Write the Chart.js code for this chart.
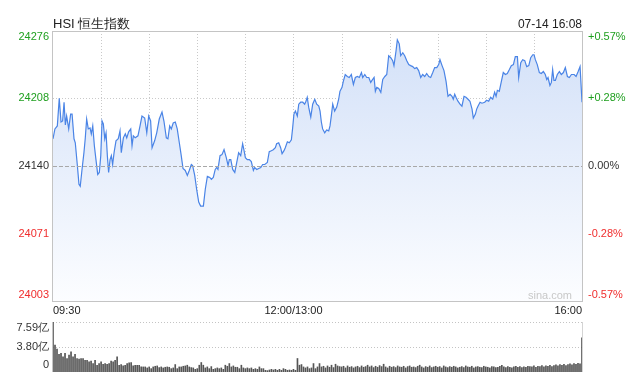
<!DOCTYPE html>
<html>
<head>
<meta charset="utf-8">
<script src="https://cdn.jsdelivr.net/npm/chart.js@4/dist/chart.umd.min.js"></script>
<style>
  body { margin: 0; background: #fff; }
  #wrap { position: relative; width: 641px; height: 377px; }
  #wrap canvas { position: absolute; left: 0; top: 0; }
</style>
</head>
<body>
<div id="wrap">
  <canvas id="priceChart" width="641" height="377"></canvas>
  <canvas id="volChart" width="641" height="377"></canvas>
</div>
<script>
// trading minutes since 09:30 (12:00/13:00 = 150, 16:00 = 330)
const tradeMin = [
  0,1.2,2.7,3.9,5.0,6.0,6.9,7.7,8.5,9.8,11.0,11.9,13.1,13.9,15.2,16.2,17.0,18.1,19.3,20.1,
  21.0,22.0,23.1,23.9,24.8,25.8,26.8,27.9,28.9,29.8,30.6,31.4,32.3,33.1,33.9,34.7,35.6,36.4,37.2,38.1,
  39.3,40.7,41.8,42.6,43.9,45.1,46.0,47.2,48.5,49.3,50.1,51.3,53.0,54.3,55.5,57.2,58.5,59.7,60.9,61.8,
  63.4,64.7,66.3,
  68.0,69.2,70.7,71.7,72.8,73.8,75.0,76.3,77.5,78.8,80.0,81.1,82.5,83.8,85.0,86.3,87.1,88.4,89.6,90.9,
  92.1,93.8,95.0,96.3,97.8,98.8,100.0,101.2,102.1,102.9,104.2,105.4,106.7,108.1,109.2,110.0,110.9,112.1,113.4,114.6,
  115.8,117.1,118.3,119.2,120.0,121.2,122.5,123.7,125.0,125.8,127.1,128.3,129.6,130.8,132.1,133.7,
  134.9,136.2,137.4,138.7,139.5,140.8,142.0,142.9,144.1,144.9,146.2,147.4,148.7,149.5,150.3,151.2,152.4,153.3,154.5,155.8,
  157.0,157.8,158.6,159.5,160.8,162.0,163.3,164.5,165.8,166.6,167.4,168.2,169.5,170.7,172.0,172.8,173.6,174.5,175.7,177.0,
  178.2,179.0,180.3,181.1,182.3,183.6,184.8,186.1,187.4,188.6,189.9,191.1,192.4,193.2,194.5,195.7,197.0,198.2,199.0,200.3,
  201.1,202.0,203.2,204.5,205.7,207.0,208.2,209.4,210.7,211.9,212.7,214.0,214.8,216.0,216.9,218.2,219.4,220.7,221.9,223.1,
  224.4,225.6,226.9,228.1,229.4,230.6,231.9,233.1,234.4,235.6,236.9,238.1,239.4,240.6,241.4,242.7,243.9,245.2,246.4,247.7,
  248.9,249.7,250.6,251.4,252.6,253.9,255.1,256.4,257.6,258.9,260.1,261.4,262.2,263.5,264.3,265.1,266.4,267.6,
  269.3,270.5,271.8,273.0,274.3,275.5,276.4,277.2,278.4,279.7,280.9,282.2,283.4,284.7,285.9,287.2,288.4,289.7,290.5,291.8,
  293.0,294.3,295.5,296.8,298.0,299.3,300.1,300.9,302.1,303.4,304.6,305.9,307.1,308.0,308.8,310.0,310.9,311.7,312.5,313.4,
  314.6,315.9,317.1,318.4,319.6,320.9,322.1,323.4,325.1,326.3,327.6,328.8,330
];
const hsiPrice = [
  24167,24177,24180,24208,24184,24185,24204,24181,24190,24177,24192,24192,24167,24163,24140,24121,24119,24136,24153,24167,
  24187,24177,24178,24172,24180,24160,24146,24131,24133,24150,24185,24182,24167,24173,24150,24133,24146,24150,24141,24153,
  24165,24167,24175,24153,24168,24172,24168,24174,24177,24160,24170,24168,24170,24180,24190,24188,24173,24190,24185,24158,
  24165,24173,24187,
  24194,24185,24168,24167,24180,24177,24183,24184,24177,24163,24150,24137,24135,24130,24135,24141,24140,24130,24116,24103,
  24099,24099,24116,24129,24128,24126,24128,24136,24138,24136,24150,24151,24156,24148,24140,24146,24146,24136,24133,24143,
  24153,24150,24162,24155,24148,24146,24146,24144,24135,24138,24136,24137,24138,24141,24141,24143,
  24154,24155,24156,24158,24162,24163,24158,24152,24155,24158,24164,24163,24166,24178,24192,24195,24190,24202,24204,24204,
  24202,24205,24209,24199,24189,24202,24207,24202,24200,24195,24184,24177,24173,24176,24175,24180,24190,24202,24195,24199,
  24207,24215,24219,24225,24232,24230,24229,24232,24222,24229,24230,24229,24234,24229,24232,24229,24229,24224,24226,24229,
  24215,24219,24218,24214,24227,24230,24232,24251,24249,24246,24241,24256,24267,24263,24251,24254,24251,24246,24242,24241,
  24240,24238,24239,24236,24229,24232,24230,24233,24230,24229,24234,24239,24239,24242,24247,24241,24236,24225,24210,24212,
  24210,24207,24212,24209,24205,24202,24200,24210,24209,24207,24205,24197,24188,24192,24197,24200,24204,24203,
  24204,24206,24205,24209,24207,24214,24210,24216,24215,24225,24234,24232,24233,24237,24241,24242,24250,24250,24229,24244,
  24247,24246,24240,24241,24249,24252,24252,24247,24242,24234,24233,24235,24232,24227,24229,24221,24224,24237,24226,24226,
  24232,24235,24232,24234,24239,24230,24229,24232,24232,24230,24235,24240,24204
];
// turnover per bar, in 亿
const volume = [
  7.59,4.10,3.49,2.67,2.82,2.31,2.82,2.05,2.56,3.08,2.31,2.67,2.05,1.95,2.05,2.05,1.79,1.79,1.54,1.64,
  1.28,1.79,1.03,1.28,1.54,1.18,1.28,1.18,1.28,1.64,1.54,1.79,2.31,1.03,1.13,0.92,1.03,1.28,1.38,1.44,
  0.92,1.03,1.03,1.03,0.77,0.77,0.77,0.62,0.77,0.51,0.77,0.87,0.92,0.67,0.77,0.62,0.72,0.77,0.72,0.51,
  0.62,1.13,0.51,0.77,0.77,0.87,0.92,1.03,0.77,0.67,0.62,0.41,0.51,1.03,1.44,1.03,0.62,0.77,0.51,0.82,
  0.41,0.51,0.62,0.51,0.62,0.41,1.03,0.87,1.28,0.77,0.92,0.72,0.72,0.51,1.03,0.62,0.51,0.62,0.51,0.62,
  0.41,0.51,0.41,0.77,0.51,0.51,0.26,0.21,0.31,0.41,0.31,0.41,0.26,0.41,0.26,0.51,0.41,0.26,0.31,0.26,
  0.41,0.26,2.05,1.03,1.13,0.77,0.62,0.77,0.51,0.62,1.28,0.51,0.77,1.28,
  0.77,0.87,0.62,0.92,0.72,1.03,0.67,1.18,0.92,0.82,0.77,0.87,0.62,0.92,0.72,0.82,0.62,0.77,0.87,0.67,
  0.92,0.72,0.82,1.03,0.77,0.92,0.67,0.87,0.72,0.97,0.82,1.18,0.77,0.62,0.87,0.72,0.82,0.67,0.92,0.77,
  0.72,0.87,0.62,0.82,0.92,0.72,0.77,0.67,0.87,1.03,0.77,0.62,0.82,0.72,0.92,0.67,0.77,0.87,0.72,0.82,
  0.62,0.92,0.77,0.67,0.82,0.72,0.87,0.77,0.62,0.72,0.82,0.67,0.92,0.77,0.72,0.87,0.62,0.77,0.82,0.72,
  0.67,0.87,0.77,0.72,0.62,0.82,0.77,0.67,0.72,0.87,1.03,0.77,0.67,0.82,0.72,0.62,0.77,0.87,0.72,0.82,
  0.67,0.77,0.72,0.87,0.82,0.77,0.92,0.72,0.87,0.82,0.97,0.77,0.92,0.87,1.03,0.82,0.97,1.08,0.92,1.13,
  1.03,1.18,0.97,1.13,1.23,1.08,1.28,1.18,1.33,1.23,5.20
];

const prevClose = 24140;
const priceTicks = [24003, 24071, 24140, 24208, 24276];
const pctTicks = ['-0.57%', '-0.28%', '0.00%', '+0.28%', '+0.57%'];
const timeTicks = [0, 150, 330];
const timeLabels = ['09:30', '12:00/13:00', '16:00'];
const volTicks = [0, 3.80, 7.59];
const volLabels = ['0', '3.80亿', '7.59亿'];

const FONT = '"Liberation Sans", Arial, sans-serif';
const UP = '#1f9f1f', DOWN = '#f02d2d', FLAT = '#333';

function crisp(v) { return Math.round(v) + 0.5; }

function hLine(ctx, area, y, color, dash) {
  ctx.save();
  ctx.strokeStyle = color;
  ctx.lineWidth = 1;
  ctx.setLineDash(dash);
  ctx.beginPath();
  ctx.moveTo(area.left, crisp(y));
  ctx.lineTo(area.right, crisp(y));
  ctx.stroke();
  ctx.restore();
}

function vLine(ctx, x, top, bottom, color, dash) {
  ctx.save();
  ctx.strokeStyle = color;
  ctx.lineWidth = 1;
  ctx.setLineDash(dash);
  ctx.beginPath();
  ctx.moveTo(crisp(x), top);
  ctx.lineTo(crisp(x), bottom);
  ctx.stroke();
  ctx.restore();
}

const priceFrame = {
  id: 'priceFrame',
  beforeDatasetsDraw(chart) {
    const { ctx, chartArea: a, scales: { x, y } } = chart;
    for (let m = 30; m < 330; m += 30) {
      vLine(ctx, x.getPixelForValue(m), a.top, a.bottom, '#c9c9c9', [1, 2]);
    }
    priceTicks.forEach(v => {
      if (v === prevClose) return;
      hLine(ctx, a, y.getPixelForValue(v), '#c9c9c9', [1, 2]);
    });
  },
  afterDatasetsDraw(chart) {
    const { ctx, chartArea: a, scales: { x, y } } = chart;
    hLine(ctx, a, y.getPixelForValue(prevClose), '#a8a8a8', [4, 2]);
    ctx.save();
    ctx.strokeStyle = '#c4c4c4';
    ctx.lineWidth = 1;
    ctx.strokeRect(a.left - 0.5, a.top + 0.5, a.right - a.left + 1, a.bottom - a.top);
    ctx.restore();

    ctx.save();
    ctx.font = '11px ' + FONT;
    ctx.textBaseline = 'middle';
    priceTicks.forEach((v, i) => {
      let py = y.getPixelForValue(v);
      if (i === priceTicks.length - 1) py += 6;
      if (i === 0) py -= 6;
      ctx.fillStyle = v > prevClose ? UP : (v < prevClose ? DOWN : FLAT);
      ctx.textAlign = 'right';
      ctx.fillText(String(v), 49, py);
      ctx.textAlign = 'left';
      ctx.fillText(pctTicks[i], 588, py);
    });

    ctx.fillStyle = '#222';
    ctx.textBaseline = 'middle';
    timeTicks.forEach((m, i) => {
      const px = x.getPixelForValue(m);
      ctx.textAlign = i === 0 ? 'left' : (i === timeTicks.length - 1 ? 'right' : 'center');
      ctx.fillText(timeLabels[i], px, a.bottom + 10);
    });

    ctx.fillStyle = '#c8c8c8';
    ctx.textAlign = 'right';
    ctx.fillText('sina.com', a.right - 10, a.bottom - 5);

    ctx.fillStyle = '#222';
    ctx.font = '13px ' + FONT;
    ctx.textAlign = 'left';
    ctx.textBaseline = 'alphabetic';
    ctx.fillText('HSI 恒生指数', a.left, a.top - 3);
    ctx.font = '12px ' + FONT;
    ctx.textAlign = 'right';
    ctx.fillText('07-14 16:08', a.right, a.top - 3);
    ctx.restore();
  }
};

new Chart(document.getElementById('priceChart').getContext('2d'), {
  type: 'line',
  data: {
    datasets: [{
      data: tradeMin.map((m, i) => ({ x: m, y: hsiPrice[i] })),
      borderColor: '#4a84e6',
      borderWidth: 1.2,
      pointRadius: 0,
      tension: 0,
      fill: 'start',
      backgroundColor: function (c) {
        const a = c.chart.chartArea;
        if (!a) return 'rgba(210,225,248,0.6)';
        const g = c.chart.ctx.createLinearGradient(0, a.top, 0, a.bottom);
        g.addColorStop(0, '#d2e0f8');
        g.addColorStop(1, '#fcfdff');
        return g;
      }
    }]
  },
  options: {
    responsive: false,
    animation: false,
    layout: { padding: { left: 53, right: 59, top: 31, bottom: 76 } },
    scales: {
      x: { type: 'linear', min: 0, max: 330, display: false },
      y: { min: 24003, max: 24276, display: false }
    },
    plugins: { legend: { display: false }, tooltip: { enabled: false } }
  },
  plugins: [priceFrame]
});

const volFrame = {
  id: 'volFrame',
  beforeDatasetsDraw(chart) {
    const { ctx, chartArea: a, scales: { y } } = chart;
    hLine(ctx, a, y.getPixelForValue(volTicks[2]), '#c4c4c4', [1, 2]);
    hLine(ctx, a, y.getPixelForValue(volTicks[1]), '#c4c4c4', [1, 2]);
    vLine(ctx, a.left - 1, a.top, a.bottom, '#c4c4c4', []);
    vLine(ctx, a.right, a.top, a.bottom, '#d4d4d4', []);
  },
  afterDraw(chart) {
    const { ctx, scales: { y } } = chart;
    ctx.save();
    ctx.font = '11px ' + FONT;
    ctx.fillStyle = '#333';
    ctx.textAlign = 'right';
    ctx.textBaseline = 'middle';
    volTicks.forEach((v, i) => {
      let py = y.getPixelForValue(v);
      if (i === 0) py -= 7;
      if (i === volTicks.length - 1) py += 6;
      ctx.fillText(volLabels[i], 49, py);
    });
    ctx.restore();
  }
};

new Chart(document.getElementById('volChart').getContext('2d'), {
  type: 'bar',
  data: {
    labels: volume.map((_, i) => i),
    datasets: [{ data: volume, backgroundColor: '#555', barThickness: 1 }]
  },
  options: {
    responsive: false,
    animation: false,
    layout: { padding: { left: 53, right: 59, top: 322, bottom: 5 } },
    scales: {
      x: { display: false, offset: false },
      y: { min: 0, max: 7.59, display: false }
    },
    plugins: { legend: { display: false }, tooltip: { enabled: false } }
  },
  plugins: [volFrame]
});
</script>
</body>
</html>
